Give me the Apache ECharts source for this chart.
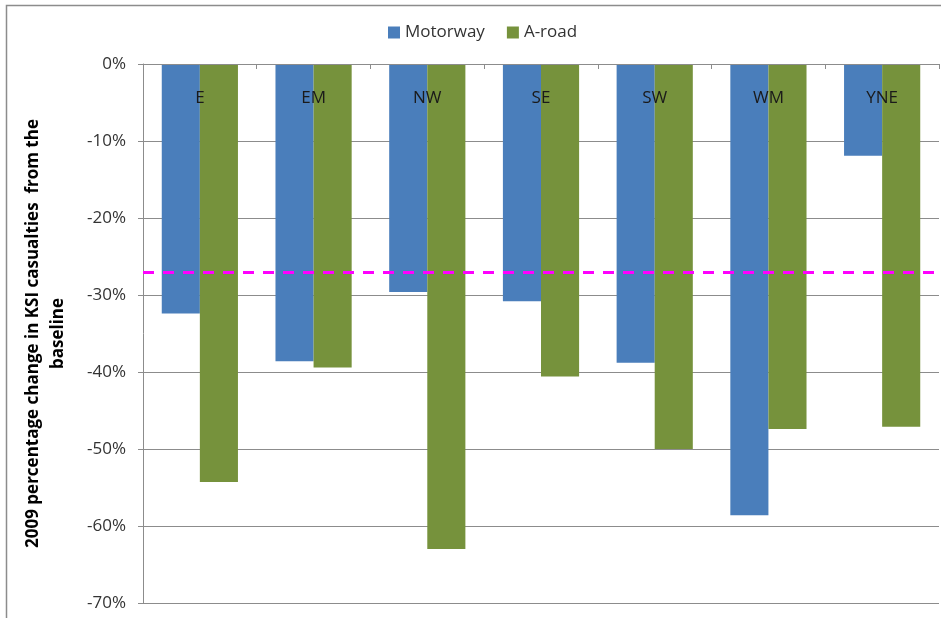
<!DOCTYPE html>
<html>
<head>
<meta charset="utf-8">
<script src="https://cdn.jsdelivr.net/npm/echarts@6/dist/echarts.min.js"></script>
<style>
html,body{margin:0;padding:0;background:#fff;}
#chart{width:941px;height:618px;}
</style>
</head>
<body>
<div id="chart"></div>
<script>
const categories = ['E', 'EM', 'NW', 'SE', 'SW', 'WM', 'YNE'];
const motorway = [-32.4, -38.6, -29.6, -30.8, -38.8, -58.6, -11.9];
const aRoad = [-54.3, -39.4, -63.0, -40.6, -50.0, -47.4, -47.1];
const targetLine = -27;
const seriesNames = ['Motorway', 'A-road'];
const yAxisTitle = '2009 percentage change in KSI casualties  from the\nbaseline';

const FONT = 'Open Sans';
const chart = echarts.init(document.getElementById('chart'), null, {renderer: 'canvas'});
chart.setOption({
  animation: false,
  backgroundColor: '#ffffff',
  textStyle: {fontFamily: FONT},
  graphic: [{
    type: 'polyline',
    shape: {points: [[6.5, 640], [6.5, 5.5], [960, 5.5]]},
    style: {stroke: '#8c8c8c', lineWidth: 1.5, fill: null},
    silent: true
  }],
  legend: {
    data: seriesNames,
    left: 383,
    top: 19,
    itemWidth: 12,
    itemHeight: 12,
    itemGap: 22,
    icon: 'rect',
    textStyle: {fontFamily: FONT, fontSize: 17, color: '#333'}
  },
  grid: {left: 143, right: 2, top: 64, bottom: 15, containLabel: false},
  xAxis: {
    type: 'category',
    data: categories,
    position: 'top',
    z: 5,
    axisLine: {show: true, lineStyle: {color: '#8c8c8c', width: 1}},
    axisTick: {show: true, inside: true, length: 5, lineStyle: {color: '#8c8c8c'}},
    axisLabel: {inside: true, margin: 26, fontFamily: FONT, fontSize: 17, color: '#1a1a1a'},
    splitLine: {show: false}
  },
  yAxis: {
    type: 'value',
    min: -70,
    max: 0,
    interval: 10,
    name: yAxisTitle,
    nameLocation: 'middle',
    nameRotate: 90,
    nameGap: 72,
    nameTextStyle: {fontFamily: FONT, fontSize: 17, fontWeight: 'bold', color: '#000', lineHeight: 25, align: 'center'},
    axisLine: {show: true, lineStyle: {color: '#8c8c8c', width: 1}},
    axisTick: {show: true, length: 5, lineStyle: {color: '#8c8c8c'}},
    axisLabel: {formatter: '{value}%', margin: 17, fontFamily: FONT, fontSize: 17, color: '#333'},
    splitLine: {show: true, lineStyle: {color: '#8c8c8c', width: 1}}
  },
  series: [
    {
      name: seriesNames[0],
      type: 'bar',
      data: motorway,
      barGap: '0%',
      barCategoryGap: '33%',
      itemStyle: {color: '#4a7ebb'},
      markLine: {
        silent: true,
        symbol: ['none', 'none'],
        label: {show: false},
        lineStyle: {color: '#ff00ff', type: [11, 9], width: 3, opacity: 1},
        data: [{yAxis: targetLine}]
      }
    },
    {
      name: seriesNames[1],
      type: 'bar',
      data: aRoad,
      barGap: '0%',
      barCategoryGap: '33%',
      itemStyle: {color: '#76923c'}
    }
  ]
});
</script>
</body>
</html>
